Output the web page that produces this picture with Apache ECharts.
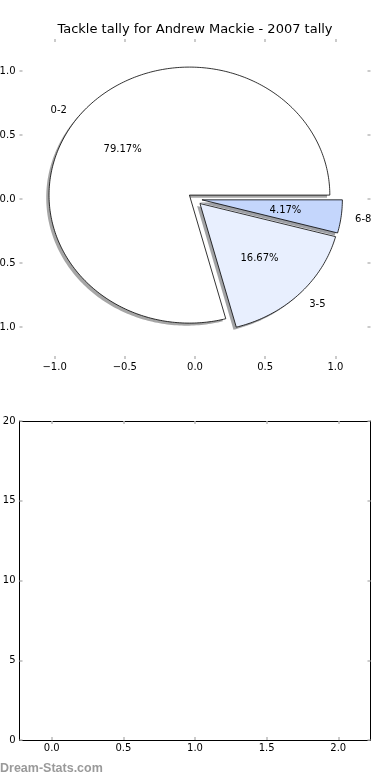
<!DOCTYPE html>
<html><head><meta charset="utf-8">
<script src="https://cdn.jsdelivr.net/npm/echarts@6/dist/echarts.min.js"></script>
<style>html,body{margin:0;padding:0;background:#fff}#c{width:390px;height:780px}</style>
</head><body><div id="c"></div>
<script>
// ---- data ----
const titleText = 'Tackle tally for Andrew Mackie - 2007 tally';
const categories = ['0-2', '3-5', '6-8'];
const tallies = [19, 4, 1];
const pieTicks = [-1, -0.5, 0, 0.5, 1];
const barXTicks = [0, 0.5, 1, 1.5, 2];
const barYTicks = [0, 5, 10, 15, 20];

// ---- style ----
const sliceColors = [[255, 255, 255], [232, 239, 254], [196, 214, 252]];
const FONT = '"DejaVu Sans"';
const EXPLODE = 0.05, LABEL_D = 1.1, PCT_D = 0.6, SHADOW_OFF = -0.02;
const TICK_COLOR = '#bbbbbb';

const total = tallies.reduce((a, b) => a + b, 0);
function geom(i) {
  let start = 0;
  for (let k = 0; k < i; k++) start += tallies[k] / total * 360;
  const end = start + tallies[i] / total * 360;
  const mid = (start + end) / 2 * Math.PI / 180;
  return { start, end, mid, cx: EXPLODE * Math.cos(mid), cy: EXPLODE * Math.sin(mid) };
}
function wedgePts(api, g, dx, dy) {
  const pts = [api.coord([g.cx + dx, g.cy + dy])];
  const n = Math.max(4, Math.ceil(g.end - g.start));
  for (let j = 0; j <= n; j++) {
    const a = (g.start + (g.end - g.start) * j / n) * Math.PI / 180;
    pts.push(api.coord([g.cx + dx + Math.cos(a), g.cy + dy + Math.sin(a)]));
  }
  return pts;
}
const fmt1 = v => (v < 0 ? '\u2212' : '') + Math.abs(v).toFixed(1);
const fmt0 = v => String(Math.round(v));

function mkX(grid, pos, min, max, ticks, labels, line, fmt) {
  return {
    type: 'value', gridIndex: grid, position: pos, min, max,
    splitLine: { show: false },
    axisLine: { show: line, onZero: false, lineStyle: { color: '#000', width: 1 } },
    axisTick: { show: true, inside: true, length: 3, customValues: ticks, lineStyle: { color: TICK_COLOR, width: 1.5 } },
    axisLabel: { show: labels, customValues: ticks, formatter: fmt, margin: 3, color: '#000', fontSize: 10, fontFamily: 'DejaVu Sans' }
  };
}
function mkY(grid, pos, min, max, ticks, labels, line, fmt) {
  const o = mkX(grid, pos, min, max, ticks, labels, line, fmt);
  o.axisLabel.margin = 4;
  return o;
}

const data = tallies.map((v, i) => ({ value: [i, v], name: categories[i] }));

const option = {
  animation: false,
  title: {
    text: titleText, left: 'center', top: 23.5, padding: 0,
    textStyle: { fontSize: 13, fontWeight: 'normal', color: '#000', fontFamily: 'DejaVu Sans' }
  },
  grid: [
    { left: 19.5, top: 39, width: 351, height: 320, containLabel: false, outerBoundsMode: 'none' },
    { left: 19.5, top: 421, width: 351, height: 319, containLabel: false, outerBoundsMode: 'none' }
  ],
  xAxis: [
    mkX(0, 'bottom', -1.25, 1.25, pieTicks, true, false, fmt1),
    mkX(0, 'top', -1.25, 1.25, pieTicks, false, false, fmt1),
    mkX(1, 'bottom', -0.225, 2.225, barXTicks, true, true, fmt1),
    mkX(1, 'top', -0.225, 2.225, barXTicks, false, true, fmt1)
  ],
  yAxis: [
    mkY(0, 'left', -1.25, 1.25, pieTicks, true, false, fmt1),
    mkY(0, 'right', -1.25, 1.25, pieTicks, false, false, fmt1),
    mkY(1, 'left', 0, 20, barYTicks, true, true, fmt0),
    mkY(1, 'right', 0, 20, barYTicks, false, true, fmt0)
  ],
  graphic: [{
    type: 'text', left: 0, top: 762,
    style: { text: 'Dream-Stats.com', fill: '#9a9a9a', font: 'bold 12.5px "Liberation Sans"' }
  }],
  series: [
    {
      type: 'custom', name: 'shadow', xAxisIndex: 0, yAxisIndex: 0, z: 1, silent: true,
      data,
      renderItem(params, api) {
        const i = params.dataIndex, g = geom(i), c = sliceColors[i];
        return {
          type: 'polygon',
          shape: { points: wedgePts(api, g, SHADOW_OFF, SHADOW_OFF) },
          style: { fill: `rgba(${Math.round(c[0] * 0.3)},${Math.round(c[1] * 0.3)},${Math.round(c[2] * 0.3)},0.5)`, stroke: null }
        };
      }
    },
    {
      type: 'custom', name: 'wedges', xAxisIndex: 0, yAxisIndex: 0, z: 2, silent: true,
      data,
      renderItem(params, api) {
        const i = params.dataIndex, g = geom(i), c = sliceColors[i];
        const cosM = Math.cos(g.mid), sinM = Math.sin(g.mid);
        const lp = api.coord([g.cx + LABEL_D * cosM, g.cy + LABEL_D * sinM]);
        const pp = api.coord([g.cx + PCT_D * cosM, g.cy + PCT_D * sinM]);
        const pct = (tallies[i] / total * 100).toFixed(2) + '%';
        return {
          type: 'group',
          children: [
            { type: 'polygon', shape: { points: wedgePts(api, g, 0, 0) },
              style: { fill: `rgb(${c[0]},${c[1]},${c[2]})`, stroke: '#000', lineWidth: 0.8, lineJoin: 'miter' } },
            { type: 'text', x: lp[0], y: lp[1] + 1,
              style: { text: categories[i], fill: '#000', font: '10px ' + FONT,
                textAlign: cosM < 0 ? 'right' : 'left', textVerticalAlign: 'middle' } },
            { type: 'text', x: pp[0], y: pp[1] + 1,
              style: { text: pct, fill: '#000', font: '10px ' + FONT,
                textAlign: 'center', textVerticalAlign: 'middle' } }
          ]
        };
      }
    }
  ]
};
const chart = echarts.init(document.getElementById('c'), null, { renderer: 'canvas' });
chart.setOption(option);
</script>
</body></html>
